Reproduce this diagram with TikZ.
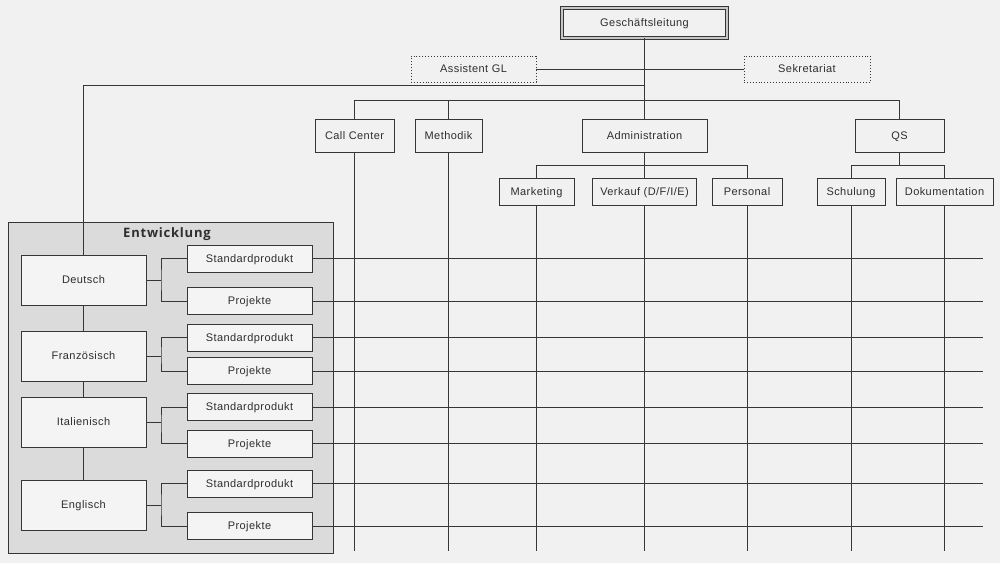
\documentclass[tikz,border=0pt]{standalone}
\usepackage{fontspec}
\setmainfont{Liberation Sans}[LetterSpace=4]
\newfontfamily\titlefont{Open Sans}[LetterSpace=6]
\definecolor{bgc}{HTML}{F1F1F1}
\definecolor{linec}{HTML}{363636}
\definecolor{entc}{HTML}{DBDBDB}
\definecolor{boxc}{HTML}{F4F4F4}
\definecolor{txtc}{HTML}{2E2E2E}
\begin{document}
\begin{tikzpicture}[x=1pt,y=-1pt,
  ln/.style={draw=linec,line width=0.9pt},
  lbl/.style={font=\fontsize{11}{13}\selectfont,text=txtc,text height=7.9pt,text depth=0pt},
  unit/.style={ln,fill=bgc,minimum width=#1,inner sep=0pt,lbl},
  top/.style={unit=#1,minimum height=33pt},
  sub/.style={unit=#1,minimum height=27pt},
  dotbox/.style={draw=linec,dotted,line width=0.9pt,minimum width=#1,minimum height=26pt,inner sep=0pt,lbl},
  lang/.style={ln,fill=boxc,minimum width=125pt,minimum height=50pt,inner sep=0pt,lbl},
  prod/.style={ln,fill=boxc,minimum width=125pt,minimum height=27pt,inner sep=0pt,lbl},
  conn/.style={draw=linec,line width=0.9pt}]
\useasboundingbox (0,0) rectangle (1000,563);
\fill[bgc] (0,0) rectangle (1000,563);

% top level
\node[draw=linec,line width=0.9pt,double=gray!45,double distance=1.6pt,fill=bgc,minimum width=165pt,minimum height=30pt,inner sep=0pt,lbl] (gl) at (644.5,23) {Geschäftsleitung};
\node[dotbox=125pt] (ass) at (473.5,69) {Assistent GL};
\node[dotbox=126pt] (sek) at (807,69) {Sekretariat};

\node[top=79pt] (cc) at (354.5,135.5) {Call Center};
\node[top=67pt] (meth) at (448.5,135.5) {Methodik};
\node[top=125pt] (adm) at (644.5,135.5) {Administration};
\node[top=89pt] (qs) at (899.5,135.5) {QS};

\node[sub=75pt] (mkt) at (536.5,191.5) {Marketing};
\node[sub=104pt] (vk) at (644.5,191.5) {Verkauf (D/F/I/E)};
\node[sub=70pt] (pers) at (747,191.5) {Personal};
\node[sub=68pt] (schu) at (851,191.5) {Schulung};
\node[sub=97pt] (doku) at (944.5,191.5) {Dokumentation};

% coordinates
\coordinate (bus) at (644.5,100);
\coordinate (entl) at (644.5,85);
\coordinate (absub) at (644.5,165);
\coordinate (qsub) at (899.5,165);
\coordinate (bot) at (0,551);
\coordinate (rend) at (983,0);

% long verticals (drawn first)
\foreach \n in {cc,meth,mkt,vk,pers,schu,doku}
  \draw[conn] (\n.south) -- (\n.south |- bot);

% Entwicklung group
\node[ln,fill=entc,minimum width=325pt,minimum height=331pt,inner sep=0pt] (ent) at (170.5,387.5) {};
\node[font=\titlefont\bfseries\fontsize{13}{15}\selectfont,text=txtc,inner sep=0pt] (entt) at (167,234) {Entwicklung};

\node[lang] (de) at (83.5,280) {Deutsch};
\node[lang] (fr) at (83.5,356) {Französisch};
\node[lang] (it) at (83.5,422) {Italienisch};
\node[lang] (en) at (83.5,505) {Englisch};

\node[prod] (des) at (249.5,258.5) {Standardprodukt};
\node[prod] (dep) at (249.5,301) {Projekte};
\node[prod] (frs) at (249.5,337.5) {Standardprodukt};
\node[prod] (frp) at (249.5,371) {Projekte};
\node[prod] (its) at (249.5,407) {Standardprodukt};
\node[prod] (itp) at (249.5,443.5) {Projekte};
\node[prod] (ens) at (249.5,483.5) {Standardprodukt};
\node[prod] (enp) at (249.5,526) {Projekte};

\coordinate (jde) at (161,280);
\coordinate (jfr) at (161,356);
\coordinate (jit) at (161,422);
\coordinate (jen) at (161,505);

% top connectors
\draw[conn] (gl.south) -- (adm.north);
\draw[conn] (ass.east) -- (sek.west);
\draw[conn] (entl) -- (entl -| de.north) -- (de.north);
\draw[conn] (bus -| cc.north) -- (bus -| qs.north);
\draw[conn] (bus -| cc.north) -- (cc.north);
\draw[conn] (bus -| meth.north) -- (meth.north);
\draw[conn] (bus -| qs.north) -- (qs.north);

\draw[conn] (adm.south) -- (vk.north);
\draw[conn] (absub -| mkt.north) -- (absub -| pers.north);
\draw[conn] (absub -| mkt.north) -- (mkt.north);
\draw[conn] (absub -| pers.north) -- (pers.north);
\draw[conn] (qs.south) -- (qsub);
\draw[conn] (qsub -| schu.north) -- (qsub -| doku.north);
\draw[conn] (qsub -| schu.north) -- (schu.north);
\draw[conn] (qsub -| doku.north) -- (doku.north);

% language connectors
\draw[conn] (de.south) -- (fr.north);
\draw[conn] (fr.south) -- (it.north);
\draw[conn] (it.south) -- (en.north);
\foreach \l/\s/\p in {de/des/dep,fr/frs/frp,it/its/itp,en/ens/enp}{
  \draw[conn] (\l.east) -- (j\l);
  \draw[conn] (\s.west) -| (j\l) |- (\p.west);
}

% horizontal rows
\foreach \n in {des,dep,frs,frp,its,itp,ens,enp}
  \draw[conn] (\n.east) -- (\n.east -| rend);
\end{tikzpicture}
\end{document}
